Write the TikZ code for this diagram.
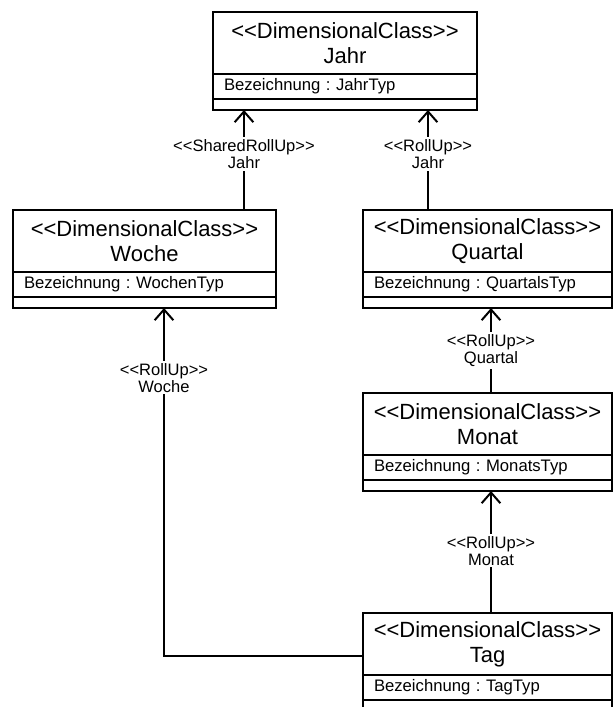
\documentclass[tikz,border=0pt]{standalone}
\usepackage{fontspec}
\setmainfont{Liberation Sans}
\usepackage{tikz}
\usetikzlibrary{positioning,arrows.meta}

\newlength\px
\setlength\px{0.75pt}
\newcommand\stereo[1]{<{}<#1>{}>}
\frenchspacing

\begin{document}
\begin{tikzpicture}[x=0.75pt, y=-0.75pt,
		line width = 1.5pt,
		head/.style={draw, minimum width=#1, minimum height=62\px, inner sep=0pt, outer sep=0pt, align=center, font=\fontsize{16.5}{18.75}\selectfont},
		attr/.style={draw, text width=#1, minimum height=25\px, inner sep=0pt, outer sep=0pt, align=left, font=\fontsize{12.5}{14}\selectfont, execute at begin node=\hspace*{11\px}},
		ops/.style={draw, minimum width=#1, minimum height=11\px, inner sep=0pt, outer sep=0pt},
		rollup/.style={-{Straight Barb[length=8pt, width=14pt]}},
		lbl/.style={fill=white, inner xsep=1\px, inner ysep=2\px, align=center, font=\fontsize{12.4}{12.75}\selectfont}]

		\useasboundingbox (0,0) rectangle (615,707);
		\clip (0,0) rectangle (615,707);

		\node[head=264\px] (jahr) at (345,43) {\stereo{DimensionalClass}\\Jahr};
		\node[attr=264\px, below=0pt of jahr] (jahr attr) {Bezeichnung : JahrTyp};
		\node[ops=264\px, below=0pt of jahr attr] (jahr ops) {};

		\node[head=263\px] (woche) at (144.5,241) {\stereo{DimensionalClass}\\Woche};
		\node[attr=263\px, below=0pt of woche] (woche attr) {Bezeichnung : WochenTyp};
		\node[ops=263\px, below=0pt of woche attr] (woche ops) {};

		\node[head=249\px] (quartal) at (487.5,241) {\stereo{DimensionalClass}\\Quartal};
		\node[attr=249\px, below=0pt of quartal] (quartal attr) {Bezeichnung : QuartalsTyp};
		\node[ops=249\px, below=0pt of quartal attr] (quartal ops) {};

		\node[head=249\px] (monat) at (487.5,424) {\stereo{DimensionalClass}\\Monat};
		\node[attr=249\px, below=0pt of monat] (monat attr) {Bezeichnung : MonatsTyp};
		\node[ops=249\px, below=0pt of monat attr] (monat ops) {};

		\node[head=249\px] (tag) at (487.5,644) {\stereo{DimensionalClass}\\Tag};
		\node[attr=249\px, below=0pt of tag] (tag attr) {Bezeichnung : TagTyp};
		\node[ops=249\px, below=0pt of tag attr] (tag ops) {};

		\coordinate (woche up) at ([xshift=99.5\px]woche.north);
		\coordinate (quartal up) at ([xshift=-59.5\px]quartal.north);
		\coordinate (monat up) at ([xshift=3.5\px]monat.north);
		\coordinate (tag up) at ([xshift=3.5\px]tag.north);

		\draw[rollup] (woche up) -- (woche up |- jahr ops.south)
			node[lbl, pos=0.56] {\stereo{SharedRollUp}\\Jahr};
		\draw[rollup] (quartal up) -- (quartal up |- jahr ops.south)
			node[lbl, pos=0.56] {\stereo{RollUp}\\Jahr};
		\draw[rollup] (monat up) -- (monat up |- quartal ops.south)
			node[lbl, pos=0.5] {\stereo{RollUp}\\Quartal};
		\draw[rollup] (tag up) -- (tag up |- monat ops.south)
			node[lbl, pos=0.51] {\stereo{RollUp}\\Monat};
		\draw[rollup] ([yshift=-12\px]tag.west) -| ([xshift=19.5\px]woche ops.south)
			node[lbl, pos=0.9] {\stereo{RollUp}\\Woche};

\end{tikzpicture}
\end{document}
